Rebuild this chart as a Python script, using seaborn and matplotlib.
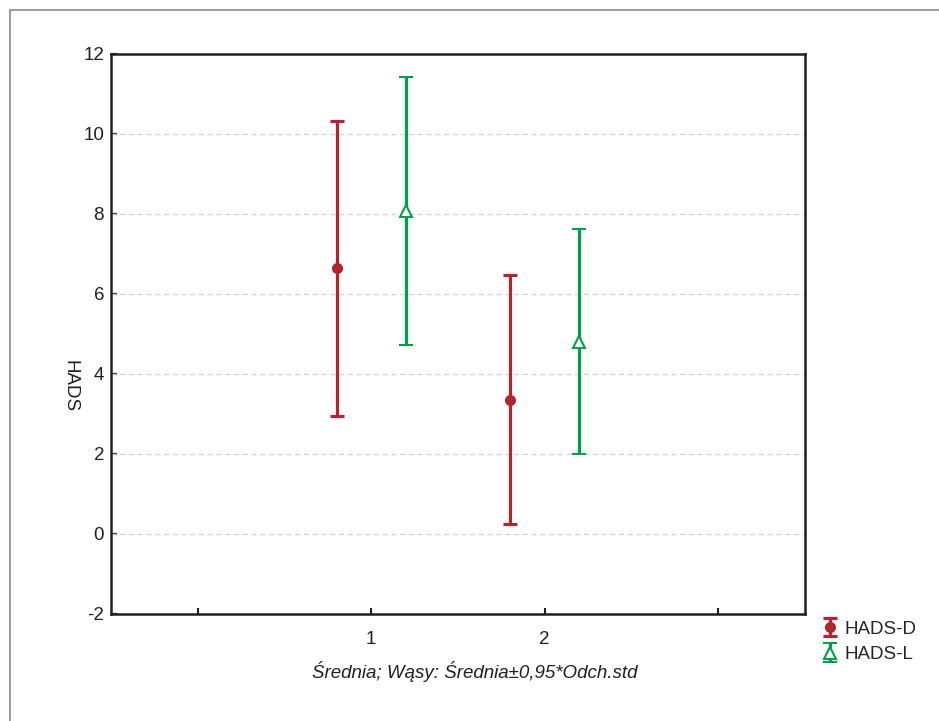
import numpy as np
import matplotlib.pyplot as plt
import seaborn as sns
from matplotlib.patches import Rectangle

# dane
groups = ["1", "2"]
series = ["HADS-D", "HADS-L"]
mean_d = [6.64, 3.36]
err_d = [3.68, 3.11]
mean_l = [8.07, 4.81]
err_l = [3.35, 2.81]

colors = {"HADS-D": "#B0252E", "HADS-L": "#00A04B"}

sns.set_style("white")
plt.rcParams["font.family"] = ["Liberation Sans", "DejaVu Sans"]

fig = plt.figure(figsize=(9.39, 7.21), dpi=100)
ax = fig.add_axes([111 / 939, 1 - 614 / 721, 694 / 939, 560 / 721])

# ramka wokół rysunku
fig.patches.append(Rectangle((10 / 939, -0.1), 1.2, 1 - 10 / 721 + 0.1,
                             transform=fig.transFigure, fill=False,
                             edgecolor="#8a8a8a", linewidth=1.2))

pos = np.arange(1, len(groups) + 1)
ax.errorbar(pos - 0.2, mean_d, yerr=err_d, fmt="o", color=colors["HADS-D"],
            ms=7, elinewidth=2.3, capsize=5, capthick=2.3, label="HADS-D", zorder=3)
ax.errorbar(pos + 0.2, mean_l, yerr=err_l, fmt="^", color=colors["HADS-L"],
            mfc="white", mec=colors["HADS-L"], mew=1.5, ms=9,
            elinewidth=2.3, capsize=5, capthick=2.3, label="HADS-L", zorder=3)

ax.set_xlim(-0.5, 3.5)
ax.set_ylim(-2, 12)
ax.set_xticks([0, 1, 2, 3])
ax.set_xticklabels(["", "1", "2", ""])
ax.set_yticks(np.arange(-2, 13, 2))
ax.set_yticklabels([str(v) for v in np.arange(-2, 13, 2)])

for y in range(0, 11, 2):
    ax.axhline(y, color="#d2d2d2", linestyle=(0, (4, 3)), linewidth=0.9, zorder=1)

for s in ax.spines.values():
    s.set_color("#231f20")
    s.set_linewidth(1.8)
ax.tick_params(direction="in", length=4, width=1.5, colors="#231f20",
               labelsize=13.5, bottom=True, left=True)
ax.tick_params(axis="x", pad=12)
ax.tick_params(axis="y", pad=5)

fig.text(70 / 939, 1 - 386 / 721, "HADS", rotation=270, fontsize=13.5,
         ha="center", va="center", color="#231f20")
fig.text(475 / 939, 1 - 672 / 721, "Średnia; Wąsy: Średnia±0,95*Odch.std",
         style="italic", fontsize=13.5, ha="center", va="center", color="#231f20")

leg = ax.legend(loc="upper left", bbox_to_anchor=(813 / 939, 1 - 613 / 721),
                bbox_transform=fig.transFigure, frameon=False, fontsize=13.5,
                handlelength=1.0, handletextpad=0.3, labelspacing=0.45,
                borderaxespad=0)

fig.savefig("out.png", dpi=100)
